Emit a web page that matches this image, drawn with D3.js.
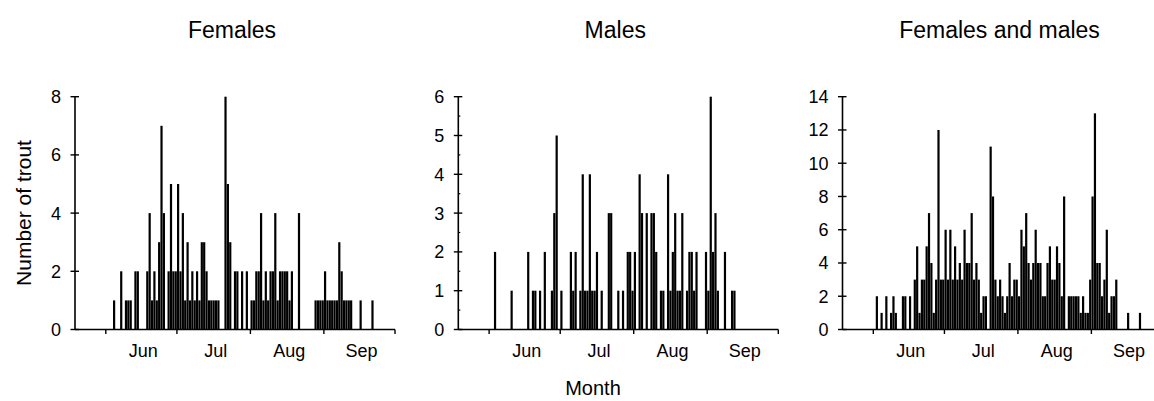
<!DOCTYPE html>
<html>
<head>
<meta charset="utf-8">
<script src="https://cdn.jsdelivr.net/npm/d3@7"></script>
<style>
  html, body { margin: 0; padding: 0; background: #fff; }
  svg { display: block; }
  text { font-family: "Liberation Sans", Arial, sans-serif; fill: #000; }
</style>
</head>
<body>
<svg id="chart" width="1154" height="401"></svg>
<script>
// Daily catches of trout; day numbers count from 1 June (day 0).
const femaleDays = [3, 6, 8, 9, 10, 12, 13, 17, 18, 19, 20, 21, 22, 23, 24, 26, 27, 28, 29, 30,
  31, 32, 33, 34, 35, 36, 37, 38, 39, 40, 41, 42, 43, 44, 45, 46, 47, 50, 51, 52,
  54, 55, 57, 59, 61, 62, 63, 64, 65, 66, 67, 68, 69, 70, 71, 72, 73, 74, 75, 76,
  77, 78, 81, 88, 89, 90, 91, 92, 93, 94, 95, 96, 97, 98, 99, 100, 101, 102, 103, 107, 112];
const femaleCounts = [1, 2, 1, 1, 1, 2, 2, 2, 4, 1, 2, 1, 3, 7, 4, 2, 5, 2, 2, 5,
  2, 4, 1, 3, 1, 2, 1, 2, 1, 3, 3, 2, 1, 1, 1, 1, 1, 8, 5, 3,
  2, 2, 2, 2, 1, 1, 2, 2, 4, 1, 2, 1, 2, 2, 4, 1, 2, 2, 2, 2,
  1, 2, 4, 1, 1, 1, 1, 2, 1, 1, 1, 1, 1, 3, 2, 1, 1, 1, 1, 1, 1];

const maleDays = [2, 9, 16, 18, 19, 21, 23, 26, 27, 28, 30, 34, 35, 36, 38, 39, 40, 41, 42, 43,
  44, 45, 47, 50, 51, 54, 56, 58, 59, 60, 61, 63, 64, 66, 68, 69, 70, 72, 73, 75,
  76, 77, 78, 79, 80, 81, 83, 84, 85, 86, 87, 91, 92, 93, 94, 95, 96, 99, 102, 103];
const maleCounts = [2, 1, 2, 1, 1, 1, 2, 1, 3, 5, 1, 2, 1, 2, 1, 4, 1, 1, 4, 1,
  1, 2, 1, 3, 3, 1, 1, 2, 2, 1, 2, 4, 3, 3, 3, 3, 2, 1, 1, 4,
  1, 2, 3, 1, 1, 3, 1, 2, 2, 1, 2, 2, 1, 6, 2, 3, 1, 2, 1, 1];

const allDays = [1, 3, 5, 7, 8, 9, 12, 13, 15, 17, 18, 19, 20, 21, 22, 23, 24, 25, 26, 27,
  28, 29, 30, 31, 32, 33, 34, 35, 36, 37, 38, 39, 40, 41, 42, 43, 44, 45, 46, 47,
  49, 50, 51, 52, 53, 54, 55, 56, 57, 58, 59, 60, 61, 62, 63, 64, 65, 66, 67, 68,
  69, 70, 71, 72, 73, 74, 75, 76, 77, 78, 79, 80, 82, 83, 84, 85, 86, 87, 88, 89,
  90, 91, 92, 93, 94, 95, 96, 97, 98, 99, 100, 101, 102, 107, 112];
const allCounts = [2, 1, 2, 1, 2, 1, 2, 2, 2, 3, 5, 1, 3, 3, 5, 7, 4, 1, 3, 12,
  3, 3, 6, 3, 6, 3, 5, 3, 4, 3, 6, 4, 4, 7, 3, 4, 3, 1, 2, 2,
  11, 8, 3, 2, 3, 2, 1, 2, 4, 2, 3, 3, 2, 6, 5, 7, 4, 3, 4, 6,
  4, 4, 2, 2, 4, 5, 3, 3, 5, 4, 2, 8, 2, 2, 2, 2, 2, 1, 2, 1,
  1, 3, 8, 13, 4, 4, 2, 3, 6, 1, 2, 2, 3, 1, 1];

// Month boundaries (day numbers) and the month names shown between them
const monthStarts = [0, 30, 61, 92, 122];
const monthNames = ["Jun", "Jul", "Aug", "Sep"];

const panelTitles = ["Females", "Males", "Females and males"];
const panelYMax = [8, 6, 14];
const panelYStep = [2, 1, 2];

const panels = [
  { title: panelTitles[0], days: femaleDays, counts: femaleCounts, yMax: panelYMax[0], step: panelYStep[0], minor: false, left: 75 },
  { title: panelTitles[1], days: maleDays, counts: maleCounts, yMax: panelYMax[1], step: panelYStep[1], minor: true, left: 458.3 },
  { title: panelTitles[2], days: allDays, counts: allCounts, yMax: panelYMax[2], step: panelYStep[2], minor: false, left: 842.5 }
];

const svg = d3.select("#chart");
const plotW = 320, yTop = 96.7, yBottom = 329.5;
const dayDomain = [-13, 122];
const tickFont = 18, titleFont = 23, axisTitleFont = 20;

panels.forEach(p => {
  const x = d3.scaleLinear().domain(dayDomain).range([p.left, p.left + plotW]);
  const y = d3.scaleLinear().domain([0, p.yMax]).range([yBottom, yTop]);
  const g = svg.append("g");
  const dayW = x(1) - x(0);
  const barW = 2.2;

  // bars
  g.selectAll("rect.bar")
    .data(p.days.map((d, i) => ({ day: d, n: p.counts[i] })))
    .join("rect")
    .attr("class", "bar")
    .attr("x", d => x(d.day) + (dayW - barW) / 2)
    .attr("width", barW)
    .attr("y", d => y(d.n))
    .attr("height", d => y(0) - y(d.n))
    .attr("fill", "#000");

  // x axis line and month ticks
  g.append("line")
    .attr("x1", x(dayDomain[0])).attr("x2", x(dayDomain[1]))
    .attr("y1", y(0)).attr("y2", y(0))
    .attr("stroke", "#000").attr("stroke-width", 1.6);
  g.selectAll("line.xt")
    .data(monthStarts)
    .join("line")
    .attr("class", "xt")
    .attr("x1", d => x(d)).attr("x2", d => x(d))
    .attr("y1", y(0)).attr("y2", y(0) + 4.5)
    .attr("stroke", "#000").attr("stroke-width", 1.4);
  g.selectAll("text.xl")
    .data(monthNames)
    .join("text")
    .attr("class", "xl")
    .attr("x", (d, i) => x((monthStarts[i] + monthStarts[i + 1]) / 2) + 2)
    .attr("y", 357)
    .attr("text-anchor", "middle")
    .style("font-size", tickFont + "px")
    .text(d => d);

  // y axis
  const yx = x(dayDomain[0]);
  g.append("line")
    .attr("x1", yx).attr("x2", yx)
    .attr("y1", y(p.yMax)).attr("y2", y(0))
    .attr("stroke", "#000").attr("stroke-width", 1.6);
  const majors = d3.range(0, p.yMax + 0.001, p.step);
  g.selectAll("line.yt")
    .data(majors)
    .join("line")
    .attr("class", "yt")
    .attr("x1", yx - 4.5).attr("x2", yx + 4)
    .attr("y1", d => y(d)).attr("y2", d => y(d))
    .attr("stroke", "#000").attr("stroke-width", 1.4);
  if (p.minor) {
    g.selectAll("line.ym")
      .data(d3.range(p.step / 2, p.yMax, p.step))
      .join("line")
      .attr("class", "ym")
      .attr("x1", yx).attr("x2", yx + 2)
      .attr("y1", d => y(d)).attr("y2", d => y(d))
      .attr("stroke", "#000").attr("stroke-width", 1.2);
  }
  g.selectAll("text.yl")
    .data(majors)
    .join("text")
    .attr("class", "yl")
    .attr("x", yx - 14)
    .attr("y", d => y(d))
    .attr("dy", "0.36em")
    .attr("text-anchor", "end")
    .style("font-size", tickFont + "px")
    .text(d => d);

  // panel title
  svg.append("text")
    .attr("x", p.left + plotW / 2 - 3)
    .attr("y", 38)
    .attr("text-anchor", "middle")
    .style("font-size", titleFont + "px")
    .text(p.title);
});

// shared axis titles
svg.append("text")
  .attr("transform", "translate(31,213) rotate(-90)")
  .attr("text-anchor", "middle")
  .style("font-size", "21px")
  .text("Number of trout");
svg.append("text")
  .attr("x", 593)
  .attr("y", 395)
  .attr("text-anchor", "middle")
  .style("font-size", axisTitleFont + "px")
  .text("Month");
</script>
</body>
</html>
